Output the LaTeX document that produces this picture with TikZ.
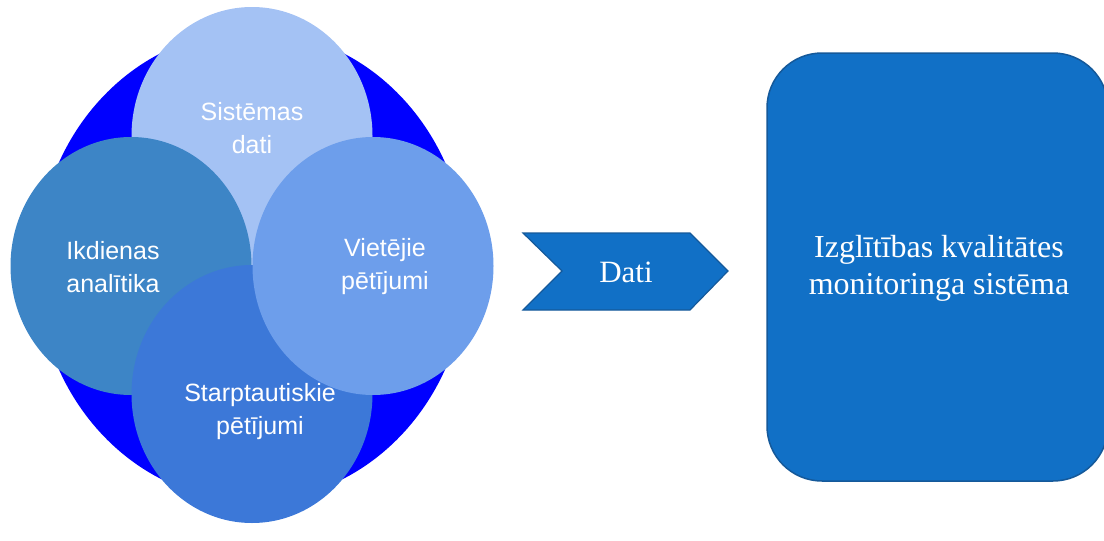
\documentclass[tikz,border=0pt]{standalone}
\usepackage{fontspec}
\setmainfont{Liberation Serif}
\newfontfamily\circfont{Liberation Sans}
\usetikzlibrary{shapes.geometric}
\definecolor{bigblue}{HTML}{0000FF}
\definecolor{ctop}{HTML}{A4C2F4}
\definecolor{cleft}{HTML}{3D85C6}
\definecolor{cright}{HTML}{6D9EEB}
\definecolor{cbottom}{HTML}{3C78D8}
\definecolor{boxfill}{HTML}{1170C6}
\definecolor{boxline}{HTML}{15599A}
\begin{document}
\begin{tikzpicture}[x=1pt,y=-1pt,
  blob/.style={ellipse, inner sep=0pt, minimum width=241pt, minimum height=258pt},
  ctext/.style={text=white, font=\circfont\fontsize{25}{33}\selectfont, align=center, inner sep=0pt},
  stext/.style={text=white, font=\fontsize{32}{37}\selectfont, align=center, inner sep=0pt},
]
\useasboundingbox (0,0) rectangle (1104,541);
\node[ellipse, fill=bigblue, minimum width=430pt, minimum height=470pt, inner sep=0pt] (big) at (252,266) {};
\node[blob, fill=ctop] (top) at (252,136) {};
\node[blob, fill=cleft] (left) at (131,266) {};
\node[blob, fill=cbottom] (bottom) at (252,394) {};
\node[blob, fill=cright] (right) at (373,266) {};
\node[ctext] (ttop) at (252,128) {Sistēmas\\dati};
\node[ctext] (tleft) at (113,267) {Ikdienas\\analītika};
\node[ctext] (tright) at (385,267) {Vietējie\\pētījumi};
\node[ctext] (tbottom) at (260,412) {Starptautiskie\\pētījumi};
% chevron
\coordinate (c1) at (523,233);
\coordinate (c2) at (690,233);
\coordinate (c3) at (728,271);
\coordinate (c4) at (690,310);
\coordinate (c5) at (523,310);
\coordinate (c6) at (562,271);
\draw[boxline, fill=boxfill, line width=1.2pt, line join=miter] (c1) -- (c2) -- (c3) -- (c4) -- (c5) -- (c6) -- cycle;
\node[text=white, font=\fontsize{31}{36}\selectfont, inner sep=0pt] (dati) at (626,272) {Dati};
% system box
\draw[boxline, fill=boxfill, line width=1.5pt, rounded corners=55pt] (767,53) rectangle (1108,481);
\node[stext] (sys) at (939,268) {Izglītības kvalitātes\\monitoringa sistēma};
\end{tikzpicture}
\end{document}
